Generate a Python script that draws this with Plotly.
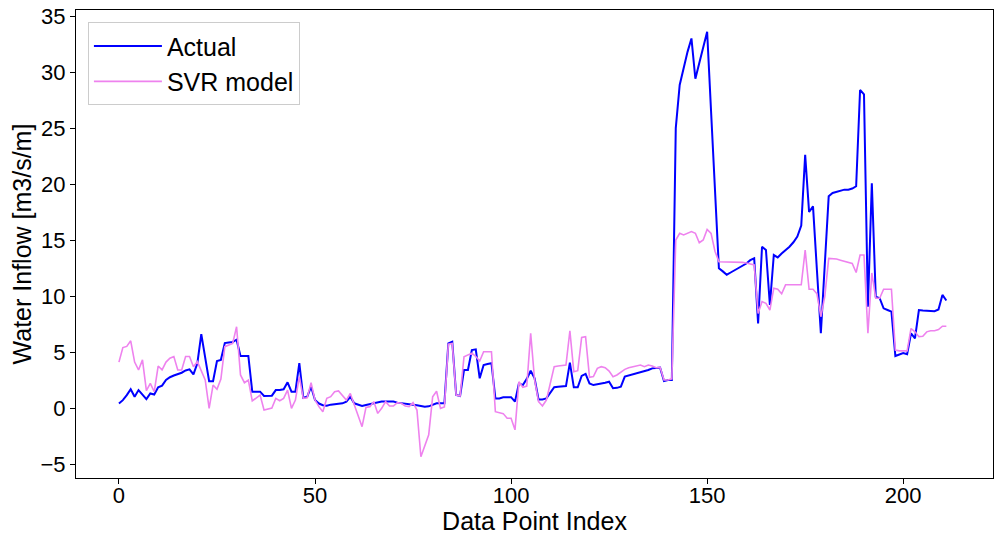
import plotly.graph_objects as go

actual = [0.4, 0.7, 1.15, 1.67, 1.0, 1.6, 1.2, 0.8, 1.3, 1.2,
          1.85, 2.0, 2.5, 2.75, 2.9, 3.0, 3.15, 3.35, 3.45, 3.0,
          4.0, 6.6, 4.4, 2.4, 2.4, 4.2, 4.3, 5.8, 5.85, 5.9,
          6.1, 4.65, 4.65, 4.65, 1.46, 1.46, 1.46, 1.07, 1.1, 1.1,
          1.6, 1.6, 1.67, 2.29, 1.46, 1.46, 4.0, 0.92, 1.0, 1.9,
          0.71, 0.4, 0.25, 0.2, 0.3, 0.36, 0.38, 0.42, 0.57, 1.0,
          0.42, 0.3, 0.18, 0.27, 0.36, 0.42, 0.48, 0.57, 0.57, 0.57,
          0.57, 0.48, 0.42, 0.36, 0.3, 0.3, 0.25, 0.18, 0.12, 0.15,
          0.3, 0.42, 0.42, 0.42, 5.77, 5.92, 1.16, 1.07, 3.39, 3.39,
          5.18, 5.24, 2.65, 3.84, 3.93, 4.0, 0.86, 0.86, 0.95, 0.95,
          0.97, 0.57, 2.2, 2.05, 2.6, 3.33, 2.65, 0.77, 0.77, 0.86,
          1.4, 1.85, 1.9, 1.93, 1.96, 4.05, 1.85, 1.85, 2.86, 3.04,
          2.2, 2.05, 2.1, 2.2, 2.25, 2.35, 1.76, 1.8, 1.9, 2.8,
          2.9, 3.0, 3.05, 3.15, 3.25, 3.39, 3.54, 3.57, 3.6, 2.4,
          2.5, 2.5, 25.0, 28.84, 30.4, 31.8, 33.0, 29.4, 30.8, 32.2,
          33.6, 26.5, 19.5, 12.47, 12.2, 11.9, 12.1, 12.3, 12.5, 12.7,
          12.9, 13.2, 13.36, 7.56, 14.4, 14.1, 9.2, 13.66, 13.45, 13.8,
          14.1, 14.4, 14.8, 15.3, 16.3, 22.6, 17.5, 18.0, 12.3, 6.67,
          12.8, 18.9, 19.2, 19.3, 19.4, 19.5, 19.5, 19.6, 19.8, 28.4,
          28.0, 9.05, 20.06, 9.94, 9.8, 8.9, 8.75, 8.6, 4.64, 4.75,
          4.9, 4.8, 6.67, 6.22, 8.75, 8.7, 8.7, 8.7, 8.65, 8.8,
          10.1, 9.6]

svr = [4.1, 5.4, 5.5, 6.0, 4.1, 3.4, 4.3, 1.55, 2.2, 1.45,
       3.75, 3.4, 4.1, 4.45, 4.6, 3.4, 3.4, 4.6, 4.6, 3.69,
       4.14, 3.39, 2.5, -0.03, 2.05, 1.67, 2.59, 5.48, 5.63, 5.77,
       7.26, 2.95, 2.26, 2.5, 0.63, 0.86, 1.16, -0.18, -0.12, 0.0,
       0.86, 0.65, 0.86, 1.6, -0.03, 0.71, 2.8, 0.86, 0.92, 2.26,
       0.71, 0.12, -0.33, 0.86, 1.01, 1.46, 1.52, 1.16, 0.71, 1.3,
       0.3, -0.5, -1.67, 0.06, 0.12, 0.57, -0.48, -0.03, 0.57, 0.18,
       0.18, 0.48, 0.42, 0.18, 0.12, 0.48, -0.18, -4.35, -3.4, -2.4,
       1.0, 1.5, -0.03, 0.1, 5.7, 5.77, 1.16, 1.07, 4.58, 4.73,
       4.9, 4.6, 4.2, 5.03, 5.03, 5.03, -0.33, -0.45, -0.5, -0.92,
       -0.92, -1.95, 2.35, 1.85, 1.96, 6.67, 2.5, 0.57, 0.18, 0.71,
       2.2, 3.69, 3.75, 3.8, 3.84, 6.9, 3.24, 3.33, 6.31, 6.37,
       2.74, 2.8, 3.54, 3.69, 3.6, 3.3, 2.8, 2.95, 3.2, 3.45,
       3.6, 3.69, 3.75, 3.84, 3.69, 3.84, 3.75, 3.6, 3.63, 2.5,
       2.5, 2.6, 15.0, 15.6, 15.45, 15.6, 15.75, 15.6, 14.76, 15.0,
       15.95, 15.6, 14.0, 13.06, 13.06, 13.06, 13.06, 13.06, 13.06, 13.0,
       12.95, 12.85, 12.77, 8.45, 9.5, 9.35, 8.75, 10.7, 10.6, 10.2,
       11.0, 11.0, 11.0, 11.0, 11.0, 14.1, 10.6, 10.6, 10.2, 8.15,
       9.94, 13.36, 13.36, 13.3, 13.2, 13.1, 13.06, 12.9, 12.1, 13.66,
       13.66, 6.67, 12.06, 9.8, 9.8, 10.6, 10.6, 10.6, 5.18, 5.1,
       5.1, 5.1, 7.1, 6.8, 6.37, 6.4, 6.8, 6.9, 6.9, 7.0,
       7.3, 7.3]

index = list(range(len(actual)))
x_ticks = [0, 50, 100, 150, 200]
y_ticks = [-5, 0, 5, 10, 15, 20, 25, 30, 35]

FONT = "Liberation Sans, Arial, sans-serif"

fig = go.Figure()
fig.add_trace(go.Scatter(x=index, y=actual, mode="lines", name="Actual",
                         line=dict(color="blue", width=2)))
fig.add_trace(go.Scatter(x=index, y=svr, mode="lines", name="SVR model",
                         line=dict(color="violet", width=1.6)))

axis_common = dict(showline=True, mirror=True, linecolor="black", linewidth=1,
                   ticks="outside", ticklen=5, tickwidth=1, tickcolor="black",
                   showgrid=False, zeroline=False, automargin=False,
                   ticklabeloverflow="allow",
                   tickfont=dict(family=FONT, size=22, color="black"))

fig.update_layout(
    width=1008, height=535,
    margin=dict(l=76, r=15, t=10, b=57),
    paper_bgcolor="white", plot_bgcolor="white",
    font=dict(family=FONT, color="black"),
    xaxis=dict(range=[-10.95, 222.9], tickvals=x_ticks, ticklabelstandoff=-7,
               title=dict(text="Data Point Index", font=dict(family=FONT, size=25), standoff=2),
               **axis_common),
    yaxis=dict(range=[-6.25, 35.54], tickvals=y_ticks,
               title=dict(text="Water Inflow [m3/s/m]", font=dict(family=FONT, size=25), standoff=1),
               **axis_common),
    legend=dict(x=0.013, y=0.974, xanchor="left", yanchor="top",
                bgcolor="white", bordercolor="#cccccc", borderwidth=1,
                font=dict(family=FONT, size=25), itemwidth=68,
                tracegroupgap=0),
    showlegend=True,
)

fig.write_html("out.html",
               config={"displayModeBar": False},
               post_script="document.body.style.margin='0';document.body.style.overflow='hidden';")
